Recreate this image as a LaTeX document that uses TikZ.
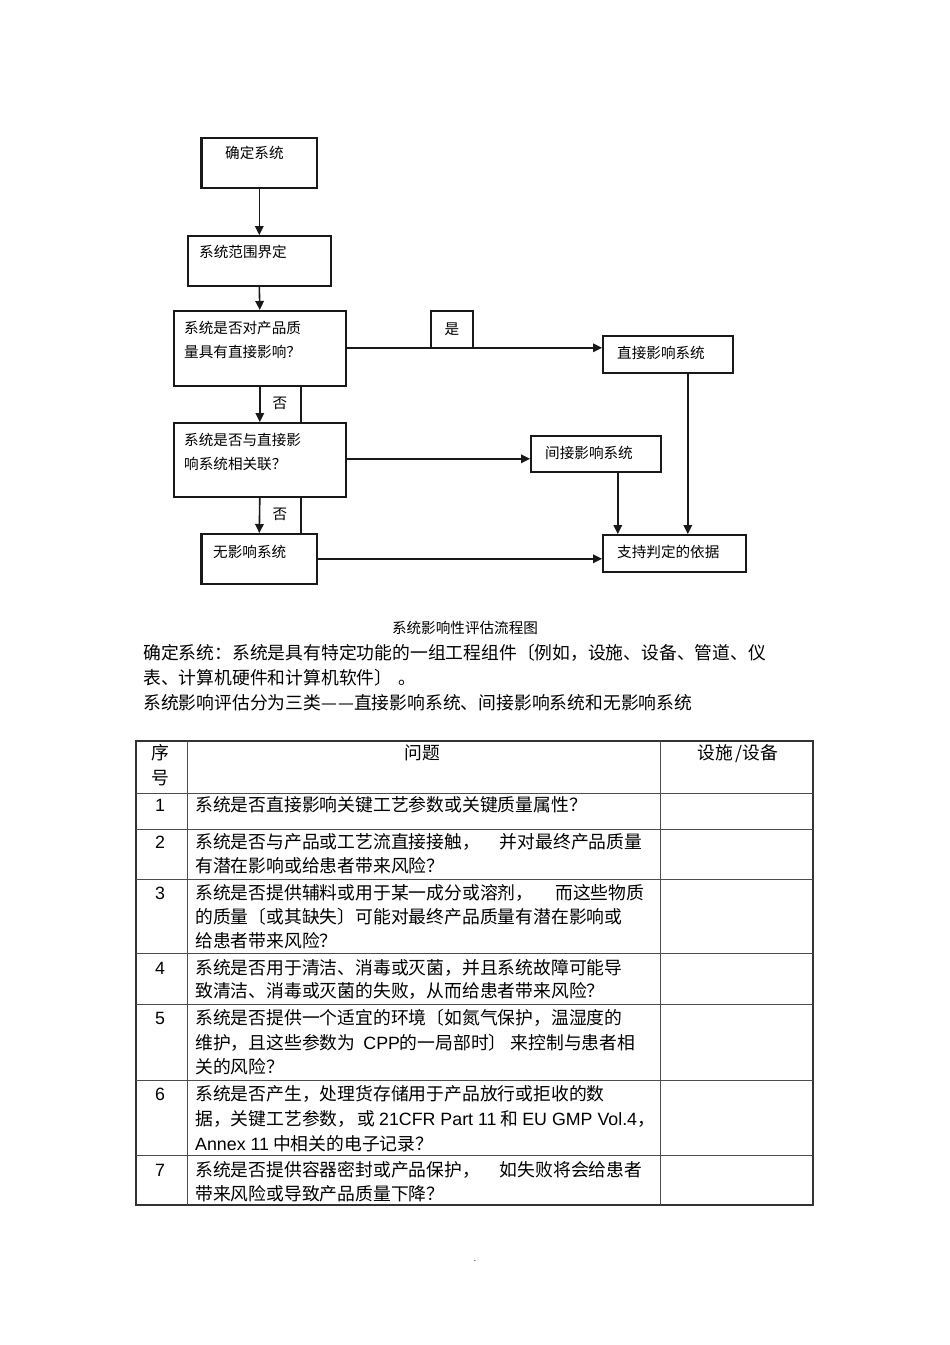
\documentclass[tikz,border=0pt]{standalone}
\usepackage{fontspec}
\setmainfont{Noto Sans CJK SC}
\newfontfamily\latf{Liberation Sans}
\usetikzlibrary{arrows.meta,calc}
\newcommand{\fsz}[1]{\fontsize{#1pt}{#1pt}\selectfont}
\begin{document}
\begin{tikzpicture}[x=1pt,y=-1pt,
  box/.style={draw=black!90,line width=1.6pt,inner sep=0pt,anchor=north west},
  ftxt/.style={inner sep=0pt,anchor=west,font=\fsz{14.6},text height=12.8pt,text depth=1.8pt},
  ttxt/.style={inner sep=0pt,anchor=west,font=\fsz{17.8},text height=15.6pt,text depth=2.2pt},
  ctxt/.style={inner sep=0pt,anchor=center,font=\fsz{17.8},text height=15.6pt,text depth=2.2pt},
  arr/.style={draw=black!90,line width=1.6pt,-{Triangle[length=9pt,width=8.5pt]}},
  lbl/.style={inner sep=0pt,minimum width=42pt,minimum height=37pt,font=\fsz{14.6}},
  lblline/.style={line width=1.5pt,black!90},
  tline/.style={draw=black!70,line width=1pt}
]
\useasboundingbox (0,0) rectangle (950,1345);
\fill[white] (0,0) rectangle (950,1345);

% ---- flowchart boxes
\node[box,minimum width=115pt,minimum height=50pt] (b1) at (201,137) {};
\node[ftxt] (t1) at (225,153) {确定系统};
\node[box,minimum width=143pt,minimum height=50pt] (b2) at (187,235) {};
\node[ftxt] (t2) at (199,252) {系统范围界定};
\node[box,minimum width=172pt,minimum height=75pt] (b3) at (173,310) {};
\node[ftxt] (t3a) at (184,328) {系统是否对产品质};
\node[ftxt] (t3b) at (184,352) {量具有直接影响？};
\node[box,minimum width=130pt,minimum height=37pt] (b4) at (602,335) {};
\node[ftxt] (t4) at (617,353) {直接影响系统};
\node[box,minimum width=172pt,minimum height=74pt] (b5) at (173,422) {};
\node[ftxt] (t5a) at (184,440) {系统是否与直接影};
\node[ftxt] (t5b) at (184,464) {响系统相关联？};
\node[box,minimum width=130pt,minimum height=36pt] (b6) at (530,435) {};
\node[ftxt] (t6) at (545,453) {间接影响系统};
\node[box,minimum width=115pt,minimum height=50pt] (b7) at (201,533) {};
\node[ftxt] (t7) at (213,552) {无影响系统};
\node[box,minimum width=143pt,minimum height=37pt] (b8) at (602,534) {};
\node[ftxt] (t8) at (617,552) {支持判定的依据};
\draw[line width=2.4pt,black!90] (b1.north west) -- (b1.south west);
\draw[line width=2.4pt,black!90] (b7.north west) -- (b7.south west);

% ---- labels
\node[lbl] (yes) at (452,329.5) {是};
\draw[lblline] (yes.south west) -- (yes.north west) -- (yes.north east) -- (yes.south east);
\node[lbl] (no1) at (280,403.5) {否};
\draw[lblline] (no1.north east) -- (no1.south east);
\node[lbl] (no2) at (280,514.5) {否};
\draw[lblline] (no2.north east) -- (no2.south east);

% ---- connectors
\draw[arr] (b1.south) -- (b2.north);
\draw[arr] (b2.south) -- (b3.north);
\draw[arr] ([yshift=0.5pt]b3.east) -- ([yshift=0.5pt]b3.east -| b4.west);
\draw[arr] (b3.south) -- (b5.north);
\draw[arr] ([yshift=1pt]b5.east) -- ([yshift=1pt]b5.east -| b6.west);
\draw[arr] (b5.south) -- (b7.north);
\draw[arr] (b7.east) -- (b7.east -| b8.west);
\draw[arr] ([xshift=22pt]b6.south) -- ([xshift=22pt]b6.south |- b8.north);
\draw[arr] ([xshift=20pt]b4.south) -- ([xshift=20pt]b4.south |- b8.north);

% ---- caption and paragraph
\node[inner sep=0pt,font=\fsz{14.6}] (cap) at (465,628) {系统影响性评估流程图};
\node[ttxt] (p1) at (143,653) {确定系统：系统是具有特定功能的一组工程组件〔例如，设施、设备、管道、仪};
\node[ttxt] (p2) at (143,678) {表、计算机硬件和计算机软件〕\hspace{6pt}。};
\node[ttxt] (p3) at (143,703) {系统影响评估分为三类—\hspace{1pt}—直接影响系统、间接影响系统和无影响系统};

% ---- table
\draw[tline,draw=black!80,line width=1.2pt] (136,741) rectangle (813,1205);
\foreach \yy in {793,829,879,953,1004,1080,1155}{
  \draw[tline] (136,\yy) -- (813,\yy);
}
\draw[tline] (187,741) -- (187,1205);
\draw[tline] (660,741) -- (660,1205);

\node[ctxt] (h1a) at (160,753) {序};
\node[ctxt] (h1b) at (160,778) {号};
\node[ctxt] (h2) at (422,753) {问题};
\node[ctxt] (h3) at (738,753) {设施\,/设备};

\node[ctxt,font=\latf\fsz{17.8}] (n1) at (160,805) {1};
\node[ttxt] (r1) at (195,805) {系统是否直接影响关键工艺参数或关键质量属性？};

\node[ctxt,font=\latf\fsz{17.8}] (n2) at (160,842) {2};
\node[ttxt] (r2a) at (195,842) {系统是否与产品或工艺流直接接触，\hspace{20pt}并对最终产品质量};
\node[ttxt] (r2b) at (195,866) {有潜在影响或给患者带来风险？};

\node[ctxt,font=\latf\fsz{17.8}] (n3) at (160,893) {3};
\node[ttxt] (r3a) at (195,893) {系统是否提供辅料或用于某一成分或溶剂，\hspace{22pt}而这些物质};
\node[ttxt] (r3b) at (195,917) {的质量〔或其缺失〕可能对最终产品质量有潜在影响或};
\node[ttxt] (r3c) at (195,941) {给患者带来风险？};

\node[ctxt,font=\latf\fsz{17.8}] (n4) at (160,968) {4};
\node[ttxt] (r4a) at (195,968) {系统是否用于清洁、消毒或灭菌，并且系统故障可能导};
\node[ttxt] (r4b) at (195,991) {致清洁、消毒或灭菌的失败，从而给患者带来风险？};

\node[ctxt,font=\latf\fsz{17.8}] (n5) at (160,1018) {5};
\node[ttxt] (r5a) at (195,1018) {系统是否提供一个适宜的环境〔如氮气保护，温湿度的};
\node[ttxt] (r5b) at (195,1043) {维护，且这些参数为\hspace{8pt}{\latf CPP}的一局部时〕\hspace{4pt}来控制与患者相};
\node[ttxt] (r5c) at (195,1067) {关的风险？};

\node[ctxt,font=\latf\fsz{17.8}] (n6) at (160,1094) {6};
\node[ttxt] (r6a) at (195,1094) {系统是否产生，处理货存储用于产品放行或拒收的数};
\node[ttxt] (r6b) at (195,1119) {据，关键工艺参数，\hspace{2pt}或 {\latf 21CFR Part 11} 和 {\latf EU GMP Vol.4}，};
\node[ttxt] (r6c) at (195,1144) {{\latf Annex 11} 中相关的电子记录？};

\node[ctxt,font=\latf\fsz{17.8}] (n7) at (160,1170) {7};
\node[ttxt] (r7a) at (195,1170) {系统是否提供容器密封或产品保护，\hspace{20pt}如失败将会给患者};
\node[ttxt] (r7b) at (195,1194) {带来风险或导致产品质量下降？};

\node[inner sep=0pt,font=\fsz{8}] (dot) at (475,1261) {.};
\end{tikzpicture}
\end{document}
